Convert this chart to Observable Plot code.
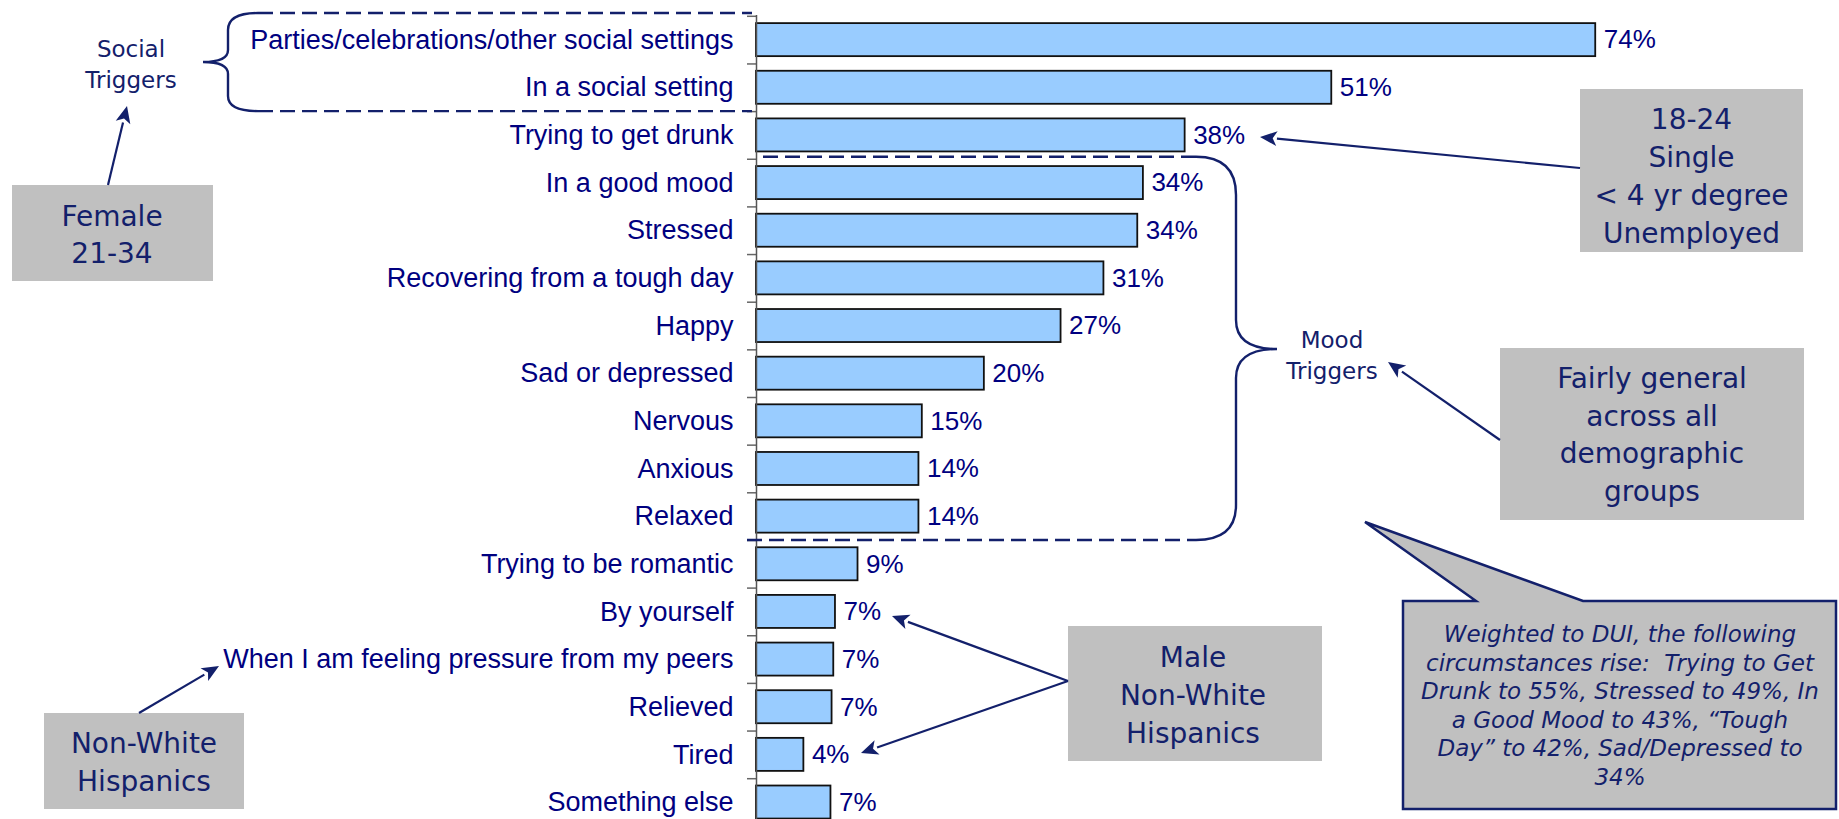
<!DOCTYPE html>
<html><head><meta charset="utf-8">
<script src="https://cdn.jsdelivr.net/npm/d3@7"></script>
<script src="https://cdn.jsdelivr.net/npm/@observablehq/plot@0.6"></script>
<style>
html,body{margin:0;padding:0;background:#fff;}
#chart{position:relative;width:1839px;height:819px;overflow:hidden;}
</style></head><body><div id="chart"></div>
<script>
// ---- data ----
const categories = [
  "Parties/celebrations/other social settings",
  "In a social setting",
  "Trying to get drunk",
  "In a good mood",
  "Stressed",
  "Recovering from a tough day",
  "Happy",
  "Sad or depressed",
  "Nervous",
  "Anxious",
  "Relaxed",
  "Trying to be romantic",
  "By yourself",
  "When I am feeling pressure from my peers",
  "Relieved",
  "Tired",
  "Something else"
];
const values = [74.4, 51.0, 38.0, 34.3, 33.8, 30.8, 27.0, 20.2, 14.7, 14.4, 14.4, 9.0, 7.0, 6.85, 6.7, 4.2, 6.6];
const valueLabels = ["74%","51%","38%","34%","34%","31%","27%","20%","15%","14%","14%","9%","7%","7%","7%","4%","7%"];

const socialTriggersText = ["Social", "Triggers"];
const moodTriggersText = ["Mood", "Triggers"];
const femaleText = ["Female", "21-34"];
const singleText = ["18-24", "Single", "< 4 yr degree", "Unemployed"];
const generalText = ["Fairly general", "across all", "demographic", "groups"];
const maleText = ["Male", "Non-White", "Hispanics"];
const nonWhiteText = ["Non-White", "Hispanics"];
const duiText = [
  "Weighted to DUI, the following",
  "circumstances rise:  Trying to Get",
  "Drunk to 55%, Stressed to 49%, In",
  "a Good Mood to 43%, \u201CTough",
  "Day\u201D to 42%, Sad/Depressed to",
  "34%"
];

// ---- layout ----
const W = 1839, H = 819;
const AXIS_X = 756, PX_PER_PCT = 11.28, XMAX = 80;
const Y0 = 15.8, STEP = 47.65;
const LABEL = "#000080";
const ANN = "#13206b";
const GRAY = "#c0c0c0";

const data = categories.map((c, i) => ({cat: c, value: values[i], label: valueLabels[i]}));

const chart = Plot.plot({
  width: W, height: H,
  marginLeft: AXIS_X,
  marginRight: W - AXIS_X - XMAX * PX_PER_PCT,
  marginTop: 15, marginBottom: 0,
  x: {domain: [0, XMAX], axis: null},
  y: {domain: categories, range: [Y0, Y0 + STEP * categories.length], round: false,
      paddingInner: 0.307, paddingOuter: 0.1535, axis: null},
  style: {background: "transparent", overflow: "visible", fontFamily: "'Liberation Sans', Arial, sans-serif"},
  marks: [
    Plot.barX(data, {x: "value", y: "cat", fill: "#99ccff", stroke: "#111", strokeWidth: 1.8}),
    Plot.ruleY(data, {y: "cat", x1: -0.8, x2: 0, dy: -STEP / 2, stroke: "#666", strokeWidth: 1.5}),
    Plot.ruleX([0], {stroke: "#555", strokeWidth: 1.5}),
    Plot.axisY({tickSize: 0, tickPadding: 23, fontSize: 27, fill: LABEL, label: null}),
    Plot.text(data, {x: "value", y: "cat", text: "label", dx: 8, textAnchor: "start", fontSize: 26, fill: LABEL})
  ]
});
document.getElementById("chart").appendChild(chart);

// ---- annotations ----
const svg = d3.select(chart);
const g = svg.append("g").attr("font-family", "'DejaVu Sans', Verdana, sans-serif").attr("fill", ANN);

function lines(arr, cx, y0, dy, size, italic) {
  const t = g.append("text").attr("text-anchor", "middle").attr("font-size", size)
    .attr("fill", ANN).style("white-space", "pre");
  if (italic) t.attr("font-style", "italic");
  arr.forEach((s, i) => t.append("tspan").attr("x", cx).attr("y", y0 + i * dy).text(s));
}
function box(x, y, w, h) {
  g.append("rect").attr("x", x).attr("y", y).attr("width", w).attr("height", h).attr("fill", GRAY);
}
function arrow(x1, y1, x2, y2) {
  const L = 17, hw = 7.5;
  const a = Math.atan2(y2 - y1, x2 - x1);
  const bx = x2 - L * Math.cos(a), by = y2 - L * Math.sin(a);
  g.append("line").attr("x1", x1).attr("y1", y1).attr("x2", bx).attr("y2", by)
    .attr("stroke", ANN).attr("stroke-width", 2.2);
  const px = -Math.sin(a) * hw, py = Math.cos(a) * hw;
  g.append("path").attr("d", `M${x2},${y2}L${bx + px},${by + py}L${bx + L*0.25*Math.cos(a)},${by + L*0.25*Math.sin(a)}L${bx - px},${by - py}Z`)
    .attr("fill", ANN);
}
const dashStyle = (p) => p.attr("fill", "none").attr("stroke", ANN).attr("stroke-width", 2.4).attr("stroke-dasharray", "15 7");
const solidStyle = (p) => p.attr("fill", "none").attr("stroke", ANN).attr("stroke-width", 2.4);

// social bracket
const sTop = 13, sBot = Y0 + 2 * STEP;
dashStyle(g.append("path").attr("d", `M258,${sTop}H${AXIS_X - 4}M258,${sBot}H${AXIS_X - 4}`));
solidStyle(g.append("path").attr("d",
  `M258,${sTop}Q228,${sTop} 228,30V50Q228,62 203,62Q228,62 228,74V96Q228,${sBot} 258,${sBot}`));

// mood bracket
const mTop = Y0 + 3 * STEP - 2, mBot = Y0 + 11 * STEP;
dashStyle(g.append("path").attr("d", `M763,${mTop}H1196M747,${mBot}H1196`));
solidStyle(g.append("path").attr("d",
  `M1196,${mTop}Q1236,${mTop} 1236,195V320Q1236,349 1277,349Q1236,349 1236,378V505Q1236,${mBot} 1196,${mBot}`));

// texts beside brackets
lines(socialTriggersText, 131, 57, 31, 23);
lines(moodTriggersText, 1332, 348, 31, 23);

// gray boxes
box(12, 185, 201, 96);    lines(femaleText, 112, 226, 37, 28);
box(1580, 89, 223, 163);  lines(singleText, 1691.5, 129, 38, 28);
box(1500, 348, 304, 172); lines(generalText, 1652, 388, 37.5, 28);
box(1068, 626, 254, 135); lines(maleText, 1193, 667, 38, 28);
box(44, 713, 200, 96);    lines(nonWhiteText, 144, 753, 38, 28);

// callout
g.append("path").attr("d", "M1403,601H1476L1365,522L1583,601H1836V809H1403Z")
  .attr("fill", GRAY).attr("stroke", ANN).attr("stroke-width", 2.5).attr("stroke-linejoin", "miter");
lines(duiText, 1620, 642, 28.5, 23, true);

// arrows
arrow(108, 185, 127, 106);
arrow(1580, 168, 1260, 137);
arrow(1500, 440, 1388, 362);
arrow(1068, 681, 892, 616);
arrow(1068, 681, 861, 753);
arrow(139, 713, 219, 666);
</script></body></html>
